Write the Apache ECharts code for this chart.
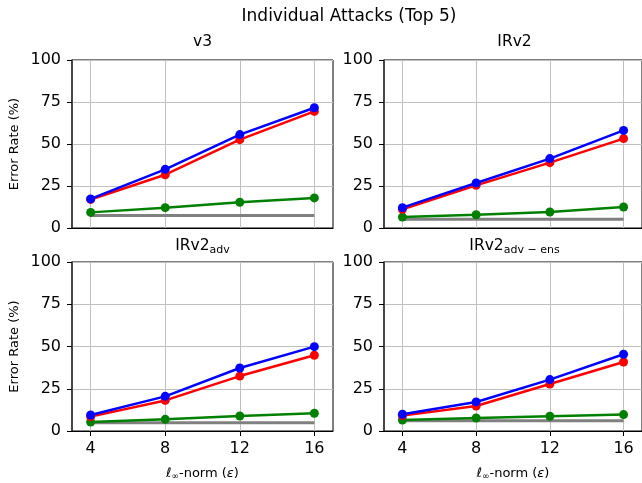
<!DOCTYPE html>
<html>
<head>
<meta charset="utf-8">
<script src="https://cdn.jsdelivr.net/npm/echarts@6/dist/echarts.min.js"></script>
<style>
  html, body { margin: 0; padding: 0; background: #fff; }
  #chart { width: 642px; height: 483px; }
</style>
</head>
<body>
<div id="chart"></div>
<script>
// epsilon values on the x axis
const epsilons = [4, 8, 12, 16]
const xTicks = [4, 8, 12, 16]
const yTicks = [0, 25, 50, 75, 100]

// panels: v3, IRv2, IRv2_adv, IRv2_adv-ens
const panelNames = ['v3', 'IRv2', 'IRv2adv', 'IRv2adv-ens']

// error rates (%)
const blueV3 = [17.3, 34.9, 55.6, 71.6]
const redV3 = [17.0, 31.7, 52.6, 69.4]
const greenV3 = [9.3, 12.1, 15.3, 17.9]
const grayV3 = [7.5, 7.5, 7.5, 7.5]

const blueIRv2 = [12.1, 26.8, 41.3, 58.1]
const redIRv2 = [11.1, 25.4, 38.9, 53.2]
const greenIRv2 = [6.5, 7.9, 9.5, 12.5]
const grayIRv2 = [5.2, 5.2, 5.2, 5.2]

const blueAdv = [9.5, 20.5, 37.3, 49.9]
const redAdv = [8.5, 18.1, 32.5, 44.8]
const greenAdv = [5.3, 6.9, 8.9, 10.5]
const grayAdv = [4.9, 4.9, 4.9, 4.9]

const blueEns = [9.9, 17.2, 30.4, 45.4]
const redEns = [9.1, 14.8, 27.8, 40.8]
const greenEns = [6.5, 7.7, 8.7, 9.7]
const grayEns = [6.1, 6.1, 6.1, 6.1]

const panelData = [
  { gray: grayV3, green: greenV3, red: redV3, blue: blueV3 },
  { gray: grayIRv2, green: greenIRv2, red: redIRv2, blue: blueIRv2 },
  { gray: grayAdv, green: greenAdv, red: redAdv, blue: blueAdv },
  { gray: grayEns, green: greenEns, red: redEns, blue: blueEns }
]

const FONT = 'DejaVu Sans'
const grids = [
  { left: 72, top: 60, width: 261, height: 168 },
  { left: 384, top: 60, width: 261, height: 168 },
  { left: 72, top: 262, width: 261, height: 169 },
  { left: 384, top: 262, width: 261, height: 169 }
]

const toPoints = (vals) => vals.map((v, i) => [epsilons[i], v])

const titleRich = {
  a: { fontSize: 15.5, fontFamily: FONT, color: '#000' },
  s: { fontSize: 11, fontFamily: FONT, color: '#000', padding: [9, 0, 0, 0] }
}
const titleText = (name) => {
  if (name === 'IRv2adv') return '{a|IRv2}{s|adv}'
  if (name === 'IRv2adv-ens') return '{a|IRv2}{s|adv − ens}'
  return '{a|' + name + '}'
}

const titles = [{
  text: 'Individual Attacks (Top 5)',
  left: 349, top: 8, textAlign: 'center', padding: 0,
  textStyle: { fontSize: 17, fontWeight: 'normal', fontFamily: FONT, color: '#000' }
}]
grids.forEach((g, i) => {
  titles.push({
    text: titleText(panelNames[i]),
    left: g.left + g.width / 2,
    top: g.top - 26,
    textAlign: 'center',
    padding: 0,
    textStyle: { fontSize: 15.5, fontWeight: 'normal', fontFamily: FONT, color: '#000', rich: titleRich }
  })
})

const xAxes = grids.map((g, i) => {
  const bottom = i >= 2
  return {
    type: 'value',
    gridIndex: i,
    min: 3,
    max: 17,
    name: bottom ? '{i|ℓ}{sub|∞}{t|-norm (}{i|ε}{t|)}' : '',
    nameLocation: 'middle',
    nameGap: 35,
    nameTextStyle: {
      rich: {
        i: { fontSize: 13, fontStyle: 'italic', fontFamily: FONT, color: '#000' },
        sub: { fontSize: 9, fontFamily: FONT, color: '#000', padding: [6, 0, 0, 0] },
        t: { fontSize: 13, fontFamily: FONT, color: '#000' }
      }
    },
    axisLine: { show: true, onZero: false, lineStyle: { color: '#000', width: 1 } },
    axisTick: { show: bottom, customValues: xTicks, length: 5, lineStyle: { color: '#000' } },
    axisLabel: {
      show: bottom, customValues: xTicks, margin: 10,
      fontSize: 16, fontFamily: FONT, color: '#000'
    },
    splitLine: { show: true, lineStyle: { color: '#c0c0c0', width: 1 } }
  }
})

const yAxes = grids.map((g, i) => ({
  type: 'value',
  gridIndex: i,
  min: 0,
  max: 100,
  interval: 25,
  name: i % 2 === 0 ? 'Error Rate (%)' : '',
  nameLocation: 'middle',
  nameGap: 51,
  nameTextStyle: { fontSize: 13, fontFamily: FONT, color: '#000' },
  axisLine: { show: true, lineStyle: { color: '#333', width: 1.5 } },
  axisTick: { show: true, length: 5, lineStyle: { color: '#000' } },
  axisLabel: { margin: 11, fontSize: 16, fontFamily: FONT, color: '#000', customValues: yTicks },
  splitLine: { show: true, lineStyle: { color: '#c0c0c0', width: 1 } }
}))

const series = []
panelData.forEach((d, i) => {
  series.push({
    type: 'line', xAxisIndex: i, yAxisIndex: i, data: toPoints(d.gray),
    showSymbol: false, symbol: 'none',
    lineStyle: { color: '#808080', width: 3 }, z: 2
  })
  const marked = [['green', '#008000'], ['red', '#ff0000'], ['blue', '#0000ff']]
  marked.forEach(([key, color], k) => {
    series.push({
      type: 'line', xAxisIndex: i, yAxisIndex: i, data: toPoints(d[key]),
      symbol: 'circle', symbolSize: 9,
      itemStyle: { color: color },
      lineStyle: { color: color, width: 2.5 },
      z: 3 + k
    })
  })
})

const chart = echarts.init(document.getElementById('chart'))
chart.setOption({
  animation: false,
  backgroundColor: '#fff',
  title: titles,
  grid: grids.map(g => Object.assign({ show: true, borderColor: '#000', borderWidth: 1, backgroundColor: 'transparent' }, g)),
  xAxis: xAxes,
  yAxis: yAxes,
  series
})
</script>
</body>
</html>
